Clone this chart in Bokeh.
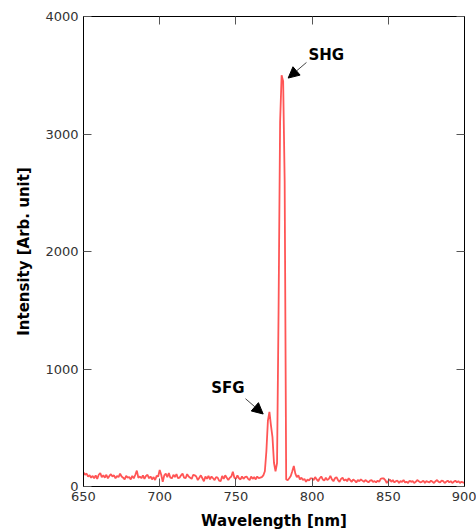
from bokeh.plotting import figure
from bokeh.models import LinearAxis, Range1d, Arrow, NormalHead, Label, FixedTicker
from bokeh.embed import file_html
from bokeh.resources import INLINE

# ---- data ----
wavelength = list(range(650, 901))
intensity = [
    # 650-699
    120, 100, 110, 85, 95, 75, 90, 70, 95, 65,
    100, 115, 80, 95, 75, 100, 70, 90, 105, 85,
    95, 70, 90, 80, 110, 85, 75, 60, 90, 75,
    80, 60, 90, 70, 100, 135, 75, 85, 70, 95,
    65, 90, 100, 70, 85, 60, 80, 55, 90, 85,
    # 700-749
    140, 100, 40, 95, 110, 80, 115, 75, 70, 100,
    80, 105, 70, 75, 95, 110, 75, 70, 105, 85,
    75, 65, 100, 95, 85, 55, 75, 95, 70, 45,
    85, 65, 90, 60, 85, 70, 55, 80, 75, 50,
    45, 90, 65, 95, 75, 55, 75, 85, 125, 75,
    # 750-799
    65, 95, 70, 60, 85, 65, 80, 85, 65, 55,
    85, 65, 80, 60, 85, 70, 75, 80, 95, 130,
    300, 560, 635, 520, 420, 200, 130, 200, 1500, 3100,
    3500, 3450, 2600, 60, 55, 70, 90, 130, 175, 110,
    80, 95, 60, 75, 55, 65, 40, 60, 50, 70,
    # 800-900
    70,
    55, 80, 60, 45, 70, 85, 60, 50, 75, 55,
    65, 90, 60, 45, 70, 80, 55, 40, 65, 75,
    50, 60, 45, 70, 55, 40, 60, 50, 35, 55,
    45, 60, 50, 40, 55, 45, 35, 50, 55, 40,
    45, 35, 50, 40, 65, 70, 68, 55, 30, 45,
    60, 40, 55, 35, 45, 50, 30, 45, 40, 55,
    35, 40, 30, 50, 40, 45, 30, 40, 55, 45,
    35, 40, 50, 30, 45, 40, 35, 50, 40, 30,
    45, 55, 40, 35, 50, 45, 30, 40, 50, 35,
    45, 30, 40, 50, 35, 45, 30, 40, 35, 30,
]
x_ticks = [650, 700, 750, 800, 850, 900]
y_ticks = [0, 1000, 2000, 3000, 4000]
x_label = "Wavelength [nm]"
y_label = "Intensity [Arb. unit]"
annotations = [
    # text, text_x, text_y, arrow_start_x, arrow_start_y, arrow_end_x, arrow_end_y
    ("SHG", 797.6, 3669, 796.3, 3609, 784.3, 3476),
    ("SFG", 733.8, 836, 756.3, 747, 767.9, 617),
]

p = figure(width=476, height=532,
           x_range=Range1d(650, 900), y_range=Range1d(0, 4000),
           output_backend="svg", toolbar_location=None,
           min_border_left=83, min_border_right=12,
           min_border_top=16, min_border_bottom=45)
p.background_fill_color = "white"
p.border_fill_color = "white"
p.outline_line_color = "black"
p.outline_line_width = 1
p.xgrid.visible = False
p.ygrid.visible = False

p.line(wavelength, intensity, line_color="#ff5555", line_width=1.8)

def style_axis(ax, ticks, show_labels=True):
    ax.ticker = FixedTicker(ticks=ticks)
    ax.major_tick_in = 8
    ax.major_tick_out = 0
    ax.minor_tick_line_color = None
    ax.major_tick_line_color = "#555555"
    ax.axis_line_color = "black"
    if show_labels:
        ax.major_label_text_font = "DejaVu Sans"
        ax.major_label_text_font_size = "13px"
        ax.major_label_text_color = "#333333"
        ax.major_label_standoff = 5
        ax.axis_label_text_font = "DejaVu Sans"
        ax.axis_label_text_font_size = "15px"
        ax.axis_label_text_font_style = "bold"
        ax.axis_label_text_color = "black"
        ax.axis_label_standoff = 8
    else:
        ax.major_label_overrides = {t: "" for t in ticks}
        ax.major_label_standoff = 0

style_axis(p.xaxis[0], x_ticks)
style_axis(p.yaxis[0], y_ticks)
p.xaxis[0].axis_label = x_label
p.yaxis[0].axis_label = y_label
p.yaxis[0].axis_label_standoff = 9

top = LinearAxis()
style_axis(top, x_ticks, show_labels=False)
p.add_layout(top, "above")
right = LinearAxis()
style_axis(right, y_ticks, show_labels=False)
p.add_layout(right, "right")

for txt, tx, ty, xs, ys, xe, ye in annotations:
    p.add_layout(Label(x=tx, y=ty, text=txt, text_font="DejaVu Sans",
                       text_font_style="bold", text_font_size="15px",
                       text_color="black", text_align="left",
                       text_baseline="middle"))
    p.add_layout(Arrow(end=NormalHead(size=11, fill_color="black",
                                      line_color="black"),
                       x_start=xs, y_start=ys, x_end=xe, y_end=ye,
                       line_color="#444444", line_width=1))

open("out.html", "w").write(file_html(p, INLINE))
